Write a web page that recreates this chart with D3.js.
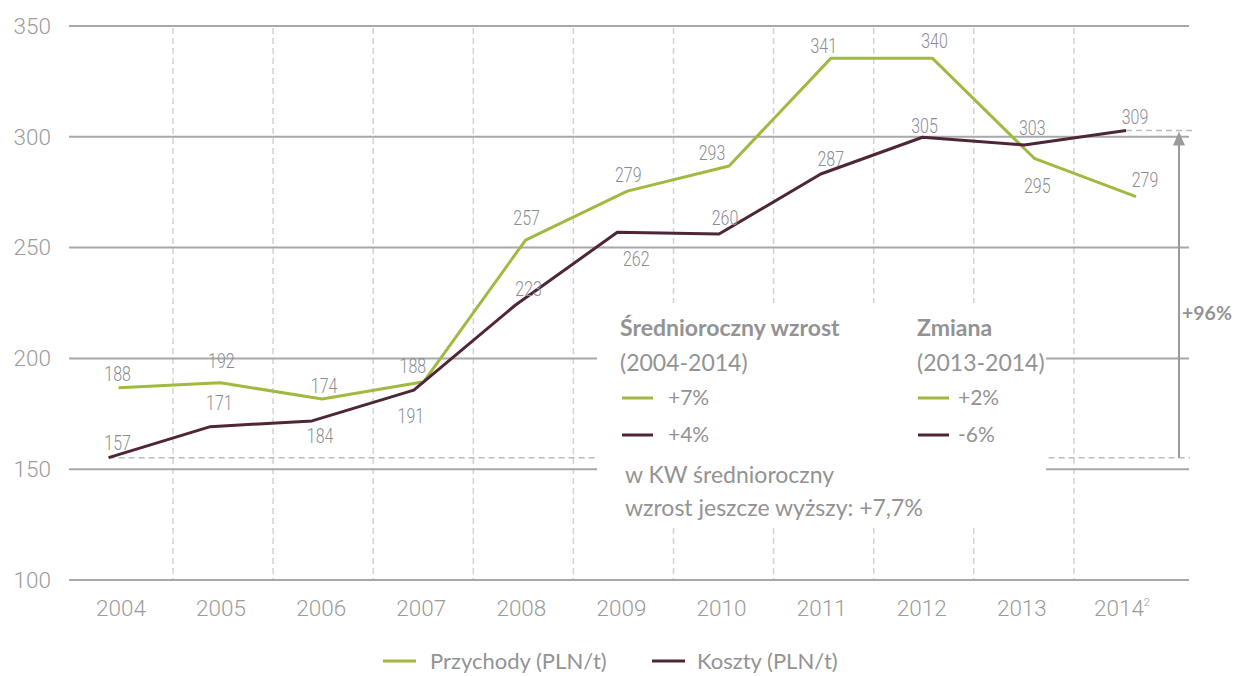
<!DOCTYPE html>
<html><head><meta charset="utf-8">
<script src="https://cdn.jsdelivr.net/npm/d3@7"></script>
<style>body{margin:0;background:#fff;overflow:hidden}</style>
</head><body>
<svg id="chart" width="1237" height="676"></svg>
<script>
// ---- data ----
const years = ["2004","2005","2006","2007","2008","2009","2010","2011","2012","2013","2014"];
const yTicks = [100,150,200,250,300,350];
// plotted positions of the lines (as drawn in the picture)
const revenue = [186.8,189.0,181.7,189.5,253.4,275.5,286.8,335.4,335.4,290.3,273.0];
const costs   = [155.2,169.2,171.8,185.7,224.1,256.9,256.1,283.2,299.8,296.3,302.8];
// value labels as printed
const revenueLabels = [188,192,174,188,257,279,293,341,340,295,279];
const costLabels    = [157,171,184,191,223,262,260,287,305,303,309];
const seriesNames = ["Przychody (PLN/t)","Koszty (PLN/t)"];
const growthTitle = ["Średnioroczny wzrost","(2004-2014)"];
const growthValues = ["+7%","+4%"];
const changeTitle = ["Zmiana","(2013-2014)"];
const changeValues = ["+2%","-6%"];
const noteLines = ["w KW średnioroczny","wzrost jeszcze wyższy: +7,7%"];
const totalChange = "+96%";

// label placement offsets (layout only)
const revOff = [[-1,-14],[1,-22],[2,-14],[-11,-16],[1,-23],[1,-17],[-17,-14],[-7,-13],[2,-18],[3,27],[9,-17]];
const costOff = [[9,-15],[9,-24],[8,15],[-3,25],[13,-17],[19,26],[6,-17],[10,-16],[2,-12],[8,-18],[9,-14]];

const GREEN = "#a0b940", MAROON = "#4f2538", GRID = "#a8a8a8", TXT = "#939393", TICK = "#9c9c9c";

const svg = d3.select("#chart");
const x = d3.scaleBand().domain(years).range([72.9,1174]).padding(0);
const xLine = d3.scalePoint().domain(years).range([113.6,1131]);
const dxRev = 5, dxCost = -5;
const y = d3.scaleLinear().domain([100,350]).range([580,26]);

// vertical dashed separators
svg.append("g").selectAll("line").data(years.slice(1)).join("line")
  .attr("x1",d=>x(d)).attr("x2",d=>x(d))
  .attr("y1",y(350)+2).attr("y2",y(100))
  .attr("stroke","#d2d2d2").attr("stroke-width",1.5).attr("stroke-dasharray","6,4");

// horizontal grid
svg.append("g").selectAll("line").data(yTicks).join("line")
  .attr("x1",69).attr("x2",1189)
  .attr("y1",d=>y(d)).attr("y2",d=>y(d))
  .attr("stroke",GRID).attr("stroke-width",2);

// reference dashed lines
svg.append("line").attr("x1",xLine(years[0])+dxCost).attr("x2",1190)
  .attr("y1",y(costs[0])).attr("y2",y(costs[0]))
  .attr("stroke","#bdbdbd").attr("stroke-width",1.5).attr("stroke-dasharray","6,4");
svg.append("line").attr("x1",xLine(years[10])+dxCost).attr("x2",1192)
  .attr("y1",y(costs[10])).attr("y2",y(costs[10]))
  .attr("stroke","#bdbdbd").attr("stroke-width",1.5).attr("stroke-dasharray","6,4");

// white panel behind annotation
svg.append("rect").attr("x",597).attr("y",303).attr("width",449).attr("height",222).attr("fill","#fff");

// arrow
const ax = 1179;
svg.append("line").attr("x1",ax).attr("x2",ax).attr("y1",y(costs[0])).attr("y2",y(costs[10])+12)
  .attr("stroke","#9a9a9a").attr("stroke-width",2);
svg.append("path").attr("d",`M${ax},${y(costs[10])+1} L${ax-6},${y(costs[10])+15} L${ax+6},${y(costs[10])+15} Z`)
  .attr("fill","#9a9a9a");
svg.append("text").attr("x",1182).attr("y",313).attr("dy","0.35em")
  .attr("font-family","Lato, 'Open Sans', sans-serif").attr("font-weight","bold").attr("font-size",19.5)
  .attr("fill",TXT).text(totalChange);

// axes
const yAxis = svg.append("g").attr("transform","translate(51,0)")
  .call(d3.axisLeft(y).tickValues(yTicks).tickSize(0).tickPadding(0));
yAxis.select(".domain").remove();
yAxis.selectAll("text").attr("font-family","Roboto, sans-serif").attr("font-weight",300)
  .attr("font-size",22.5).attr("fill",TICK);

const xAxis = svg.append("g").attr("transform","translate(-2,580)")
  .call(d3.axisBottom(x).tickSize(0).tickPadding(20));
xAxis.select(".domain").remove();
xAxis.selectAll("text").attr("font-family","Roboto, sans-serif").attr("font-weight",300)
  .attr("font-size",22.5).attr("fill",TICK);
xAxis.selectAll(".tick").filter(d=>d==="2014").select("text")
  .append("tspan").attr("font-size",11).attr("dy","-0.9em").text("2");

// lines
const lineGen = (dx)=>d3.line().x((d,i)=>xLine(years[i])+dx).y(d=>y(d));
svg.append("path").datum(revenue).attr("d",lineGen(dxRev)).attr("fill","none")
  .attr("stroke",GREEN).attr("stroke-width",3).attr("stroke-linejoin","round");
svg.append("path").datum(costs).attr("d",lineGen(dxCost)).attr("fill","none")
  .attr("stroke",MAROON).attr("stroke-width",3).attr("stroke-linejoin","round");

// value labels
function addLabels(vals, labels, off, dx){
  svg.append("g").selectAll("text").data(labels).join("text")
    .attr("transform",(d,i)=>`translate(${xLine(years[i])+dx+off[i][0]},${y(vals[i])+off[i][1]}) scale(0.76,1)`)
    .attr("text-anchor","middle").attr("dy","0.36em")
    .attr("font-family","Roboto, sans-serif").attr("font-weight",300).attr("font-size",21).attr("fill","#8c8c94")
    .text(d=>d);
}
addLabels(revenue, revenueLabels, revOff, dxRev);
addLabels(costs, costLabels, costOff, dxCost);

// annotation block
const AF = "Lato, 'Open Sans', sans-serif";
function txt(x0,y0,s,bold,size){
  svg.append("text").attr("x",x0).attr("y",y0).attr("dy","0.35em")
    .attr("font-family",AF).attr("font-size",size||23).attr("font-weight",bold?"bold":"normal")
    .attr("fill",TXT).text(s);
}
function dash(x0,y0,c){
  svg.append("line").attr("x1",x0).attr("x2",x0+31).attr("y1",y0).attr("y2",y0)
    .attr("stroke",c).attr("stroke-width",3);
}
txt(620,328,growthTitle[0],true);
txt(620,363,growthTitle[1],false);
dash(622,398,GREEN); txt(668,398,growthValues[0],false,21);
dash(622,435,MAROON); txt(668,435,growthValues[1],false,21);
txt(917,328,changeTitle[0],true);
txt(917,363,changeTitle[1],false);
dash(918,398,GREEN); txt(958,398,changeValues[0],false,21);
dash(918,435,MAROON); txt(958,435,changeValues[1],false,21);
txt(625,475,noteLines[0],false);
txt(625,508,noteLines[1],false);

// legend
const lg = svg.append("g");
[[383,GREEN,430],[652,MAROON,697]].forEach((p,i)=>{
  lg.append("line").attr("x1",p[0]).attr("x2",p[0]+33).attr("y1",661).attr("y2",661)
    .attr("stroke",p[1]).attr("stroke-width",3);
  lg.append("text").attr("x",p[2]).attr("y",661).attr("dy","0.35em")
    .attr("font-family",AF).attr("font-size",22).attr("fill",TXT).text(seriesNames[i]);
});
</script>
</body></html>
